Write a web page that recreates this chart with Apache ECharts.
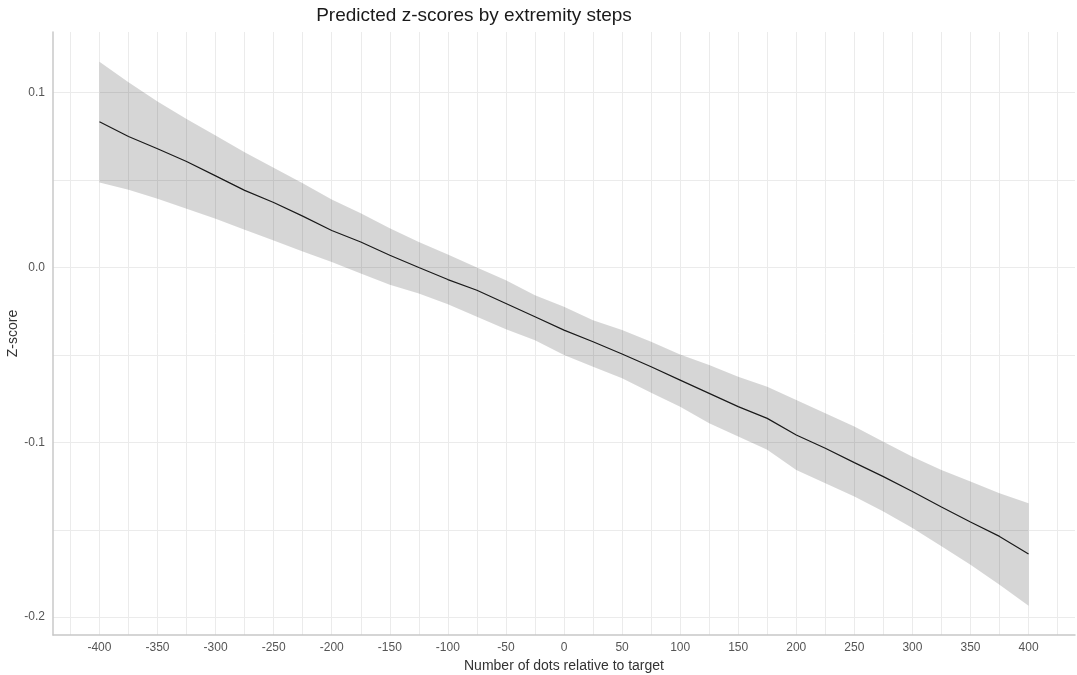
<!DOCTYPE html>
<html>
<head>
<meta charset="utf-8">
<title>Predicted z-scores by extremity steps</title>
<script src="https://cdn.jsdelivr.net/npm/echarts@6/dist/echarts.min.js"></script>
<style>
  html, body { margin: 0; padding: 0; background: #fff; }
  #chart { width: 1077px; height: 675px; }
</style>
</head>
<body>
<div id="chart"></div>
<script>
// values
const dots = [-400, -375, -350, -325, -300, -275, -250, -225, -200, -175, -150, -125, -100, -75, -50, -25,
  0, 25, 50, 75, 100, 125, 150, 175, 200, 225, 250, 275, 300, 325, 350, 375, 400];
const zFit = [0.0834, 0.0749, 0.0679, 0.0606, 0.0524, 0.0441, 0.0372, 0.0294, 0.0212, 0.0146, 0.0070, 0.0000,
  -0.0069, -0.0130, -0.0206, -0.0282, -0.0358, -0.0425, -0.0495, -0.0568, -0.0644, -0.0720, -0.0796, -0.0863,
  -0.0958, -0.1034, -0.1116, -0.1196, -0.1281, -0.1370, -0.1456, -0.1538, -0.1639];
const zUpper = [0.1177, 0.1059, 0.0950, 0.0850, 0.0755, 0.0659, 0.0570, 0.0482, 0.0389, 0.0311, 0.0225, 0.0146,
  0.0075, 0.0000, -0.0073, -0.0159, -0.0225, -0.0301, -0.0358, -0.0425, -0.0497, -0.0558, -0.0625, -0.0682,
  -0.0758, -0.0834, -0.0910, -0.0996, -0.1082, -0.1158, -0.1224, -0.1291, -0.1348];
const zLower = [0.0486, 0.0444, 0.0393, 0.0336, 0.0279, 0.0216, 0.0155, 0.0092, 0.0031, -0.0035, -0.0098, -0.0149,
  -0.0210, -0.0282, -0.0353, -0.0416, -0.0501, -0.0568, -0.0634, -0.0716, -0.0796, -0.0891, -0.0967, -0.1043,
  -0.1158, -0.1234, -0.1310, -0.1396, -0.1490, -0.1595, -0.1700, -0.1814, -0.1934];

// grid lines and tick labels
const xGrid = [-425, -400, -375, -350, -325, -300, -275, -250, -225, -200, -175, -150, -125, -100, -75, -50, -25,
  0, 25, 50, 75, 100, 125, 150, 175, 200, 225, 250, 275, 300, 325, 350, 375, 400, 425];
const xLabels = [-400, -350, -300, -250, -200, -150, -100, -50, 0, 50, 100, 150, 200, 250, 300, 350, 400];
const yGrid = [-0.2, -0.15, -0.1, -0.05, 0, 0.05, 0.1];
const yLabels = [-0.2, -0.1, 0, 0.1];

const font = "'Liberation Sans', Arial, sans-serif";
const chart = echarts.init(document.getElementById("chart"));

// confidence band: one polygon, upper edge left->right then lower edge back
const renderBand = (params, api) => {
  const pts = [];
  for (let i = 0; i < dots.length; i++) pts.push(api.coord([dots[i], zUpper[i]]));
  for (let i = dots.length - 1; i >= 0; i--) pts.push(api.coord([dots[i], zLower[i]]));
  return {
    type: "polygon",
    shape: { points: pts },
    style: { fill: "rgba(0,0,0,0.16)", stroke: "none" },
  };
};

chart.setOption({
  animation: false,
  title: {
    text: "Predicted z-scores by extremity steps",
    left: 469,
    top: 1,
    textAlign: "center",
    textStyle: { fontFamily: font, fontSize: 19, fontWeight: "normal", color: "#1a1a1a" },
  },
  grid: { left: 53, right: 2, top: 32, bottom: 40, containLabel: false, outerBoundsMode: "none" },
  xAxis: {
    type: "value",
    min: -440,
    max: 440,
    name: "Number of dots relative to target",
    nameLocation: "middle",
    nameGap: 24,
    nameMoveOverlap: false,
    nameTextStyle: { fontFamily: font, fontSize: 14, color: "#333" },
    axisLine: { show: true, onZero: false, lineStyle: { color: "#c8c8c8", width: 1.5 } },
    axisTick: { show: false, customValues: xGrid },
    axisLabel: { customValues: xLabels, margin: 7, fontFamily: font, fontSize: 12, color: "#555" },
    splitLine: { show: true, lineStyle: { color: "#ebebeb", width: 1 } },
  },
  yAxis: {
    type: "value",
    min: -0.2102,
    max: 0.1347,
    name: "Z-score",
    nameLocation: "middle",
    nameGap: 33,
    nameMoveOverlap: false,
    nameTextStyle: { fontFamily: font, fontSize: 14, color: "#333" },
    axisLine: { show: true, onZero: false, lineStyle: { color: "#c8c8c8", width: 1.5 } },
    axisTick: { show: false, customValues: yGrid },
    axisLabel: {
      customValues: yLabels,
      margin: 8,
      fontFamily: font,
      fontSize: 12,
      color: "#555",
      formatter: (v) => v.toFixed(1),
    },
    splitLine: { show: true, lineStyle: { color: "#ebebeb", width: 1 } },
  },
  series: [
    {
      name: "band",
      type: "custom",
      silent: true,
      renderItem: renderBand,
      data: [[dots[0], zUpper[0]]],
    },
    {
      name: "fit",
      type: "line",
      symbol: "none",
      lineStyle: { color: "#1a1a1a", width: 1.2 },
      data: dots.map((d, i) => [d, zFit[i]]),
    },
  ],
});
</script>
</body>
</html>
